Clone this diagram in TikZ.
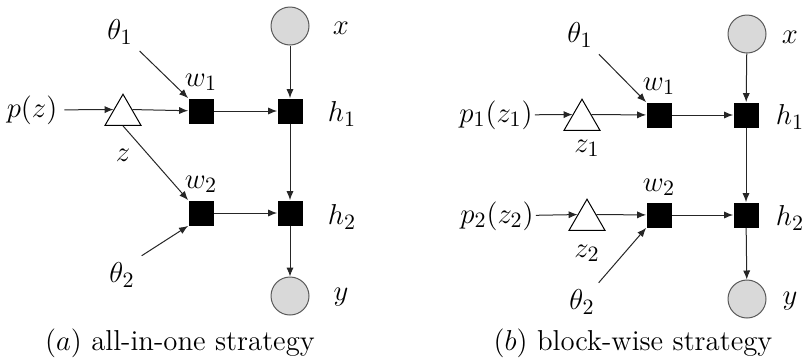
\documentclass[tikz,border=0pt]{standalone}
\usepackage{amsmath}
\usepackage{tikz}
\usetikzlibrary{shapes.geometric,arrows.meta,positioning}

\begin{document}
\begin{tikzpicture}[
    x=0.5pt, y=-0.5pt,
    obs/.style={circle, draw=black!65, fill=black!15, line width=0.5pt, minimum size=19pt, inner sep=0pt},
    fac/.style={rectangle, fill=black, minimum size=12.5pt, inner sep=0pt},
    prior/.style={regular polygon, regular polygon sides=3, draw=black, fill=white, line width=0.5pt, minimum size=20.8pt, inner sep=0pt},
    lbl/.style={font=\fontsize{15.5}{18}\selectfont},
    subcap/.style={font=\fontsize{14.4}{17}\selectfont},
    arrow/.style={-{Latex[length=4.5pt,width=3.6pt]}, line width=0.5pt, draw=black!85}
]
    \useasboundingbox (0,0) rectangle (803,360);

    % (a) all-in-one strategy
    \node [obs] (xa) at (290,26) {};
    \node [fac] (ha1) at (290,111) {};
    \node [fac] (ha2) at (290,213) {};
    \node [obs] (ya) at (290,296) {};
    \node [fac] (wa1) at (201,111) {};
    \node [fac] (wa2) at (201,213) {};
    \node [prior] (za) at (123,115) {};

    \node [lbl] at (341,28) {$x$};
    \node [lbl] at (342,114) {$h_1$};
    \node [lbl] at (342,217) {$h_2$};
    \node [lbl] at (341,297) {$y$};
    \node [lbl] at (201,82) {$w_1$};
    \node [lbl] at (201,184) {$w_2$};
    \node [lbl] at (123,155) {$z$};
    \node [lbl] (tha1) at (120,32) {$\theta_1$};
    \node [lbl] (tha2) at (122,275) {$\theta_2$};
    \node [lbl] (pa) at (32,110) {$p(z)$};

    \draw [arrow] (pa) -- (za.side 1);
    \draw [arrow] (za.side 3) -- (wa1);
    \draw [arrow] (za.side 2) -- (wa2.north west);
    \draw [arrow] (tha1) -- (wa1.north west);
    \draw [arrow] (tha2.north east) -- (wa2.south west);
    \draw [arrow] (wa1) -- (ha1);
    \draw [arrow] (wa2) -- (ha2);
    \draw [arrow] (xa) -- (ha1);
    \draw [arrow] (ha1) -- (ha2);
    \draw [arrow] (ha2) -- (ya);

    \node [subcap] at (180,343) {$(a)$ all-in-one strategy};

    % (b) block-wise strategy
    \node [obs] (xb) at (747,34) {};
    \node [fac] (hb1) at (746,115) {};
    \node [fac] (hb2) at (746,215) {};
    \node [obs] (yb) at (747,299) {};
    \node [fac] (wb1) at (659,115) {};
    \node [fac] (wb2) at (659,215) {};
    \node [prior] (zb1) at (582,120) {};
    \node [prior] (zb2) at (587,220) {};

    \node [lbl] at (790,37) {$x$};
    \node [lbl] at (790,117) {$h_1$};
    \node [lbl] at (790,218) {$h_2$};
    \node [lbl] at (790,301) {$y$};
    \node [lbl] at (659,86) {$w_1$};
    \node [lbl] at (659,187) {$w_2$};
    \node [lbl] at (587,148) {$z_1$};
    \node [lbl] at (587,253) {$z_2$};
    \node [lbl] (thb1) at (580,35) {$\theta_1$};
    \node [lbl] (thb2) at (582,302) {$\theta_2$};
    \node [lbl, inner sep=1pt] (pb1) at (496,115) {$p_1(z_1)$};
    \node [lbl, inner sep=1pt] (pb2) at (497,216) {$p_2(z_2)$};

    \draw [arrow] (pb1) -- (zb1.side 1);
    \draw [arrow] (pb2) -- (zb2.side 1);
    \draw [arrow] (zb1.side 3) -- (wb1);
    \draw [arrow] (zb2.side 3) -- (wb2);
    \draw [arrow] (thb1) -- (wb1.north west);
    \draw [arrow] (thb2) -- (wb2.south west);
    \draw [arrow] (wb1) -- (hb1);
    \draw [arrow] (wb2) -- (hb2);
    \draw [arrow] (xb) -- (hb1);
    \draw [arrow] (hb1) -- (hb2);
    \draw [arrow] (hb2) -- (yb);

    \node [subcap] at (633,343) {$(b)$ block-wise strategy};
\end{tikzpicture}
\end{document}
